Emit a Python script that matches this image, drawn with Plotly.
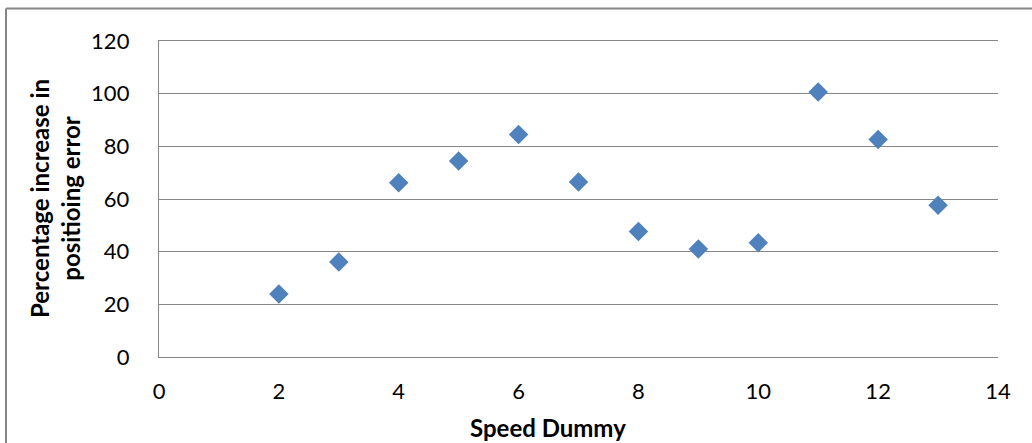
import plotly.graph_objects as go

speed = [2, 3, 4, 5, 6, 7, 8, 9, 10, 11, 12, 13]
pct_increase = [23.9, 36.1, 66.2, 74.4, 84.5, 66.5, 47.7, 41.0, 43.4, 100.6, 82.6, 57.6]

x_ticks = [0, 2, 4, 6, 8, 10, 12, 14]
y_ticks = [0, 20, 40, 60, 80, 100, 120]

W, H = 1032, 443
ML, MR, MT, MB = 159, 34, 41, 86
PW, PH = W - ML - MR, H - MT - MB

def px2x(px):
    return (px - ML) / PW

def py2y(py):
    return (H - MB - py) / PH

FONT = "Lato, 'Open Sans', sans-serif"
GRID = "#868686"

fig = go.Figure()
fig.add_trace(go.Scatter(
    x=speed, y=pct_increase, mode="markers",
    marker=dict(symbol="diamond", size=15, color="#4F81BD",
                line=dict(width=0)),
    showlegend=False,
))

fig.update_layout(
    width=W, height=H,
    margin=dict(l=ML, r=MR, t=MT, b=MB, pad=0),
    paper_bgcolor="white", plot_bgcolor="white",
    font=dict(family=FONT, size=22, color="#000000"),
    xaxis=dict(range=[0, 14], tickvals=x_ticks, ticktext=[str(v) for v in x_ticks],
               showgrid=False, zeroline=False, showline=True, mirror=True,
               linecolor=GRID, linewidth=1.4,
               ticks="", ticklabelstandoff=14, fixedrange=True),
    yaxis=dict(range=[0, 120], tickvals=y_ticks, ticktext=[str(v) for v in y_ticks],
               showgrid=True, gridcolor=GRID, gridwidth=1.4,
               zeroline=False, showline=True, linecolor=GRID, linewidth=1.4,
               ticks="", ticklabelstandoff=24, fixedrange=True),
    annotations=[
        dict(text="<b>Percentage increase in<br>positioing error</b>",
             xref="paper", yref="paper", x=px2x(55), y=py2y(199),
             xanchor="center", yanchor="middle", textangle=-90,
             showarrow=False, font=dict(size=24, family=FONT)),
        dict(text="<b>Speed Dummy</b>",
             xref="paper", yref="paper", x=px2x(548), y=py2y(427),
             xanchor="center", yanchor="middle",
             showarrow=False, font=dict(size=24, family=FONT)),
    ],
    shapes=[
        dict(type="line", xref="paper", yref="paper",
             x0=px2x(6), x1=px2x(1040), y0=py2y(8.5), y1=py2y(8.5),
             line=dict(color=GRID, width=2)),
        dict(type="line", xref="paper", yref="paper",
             x0=px2x(6), x1=px2x(6), y0=py2y(8.5), y1=py2y(460),
             line=dict(color=GRID, width=2)),
    ],
)

fig.write_html("out.html")
